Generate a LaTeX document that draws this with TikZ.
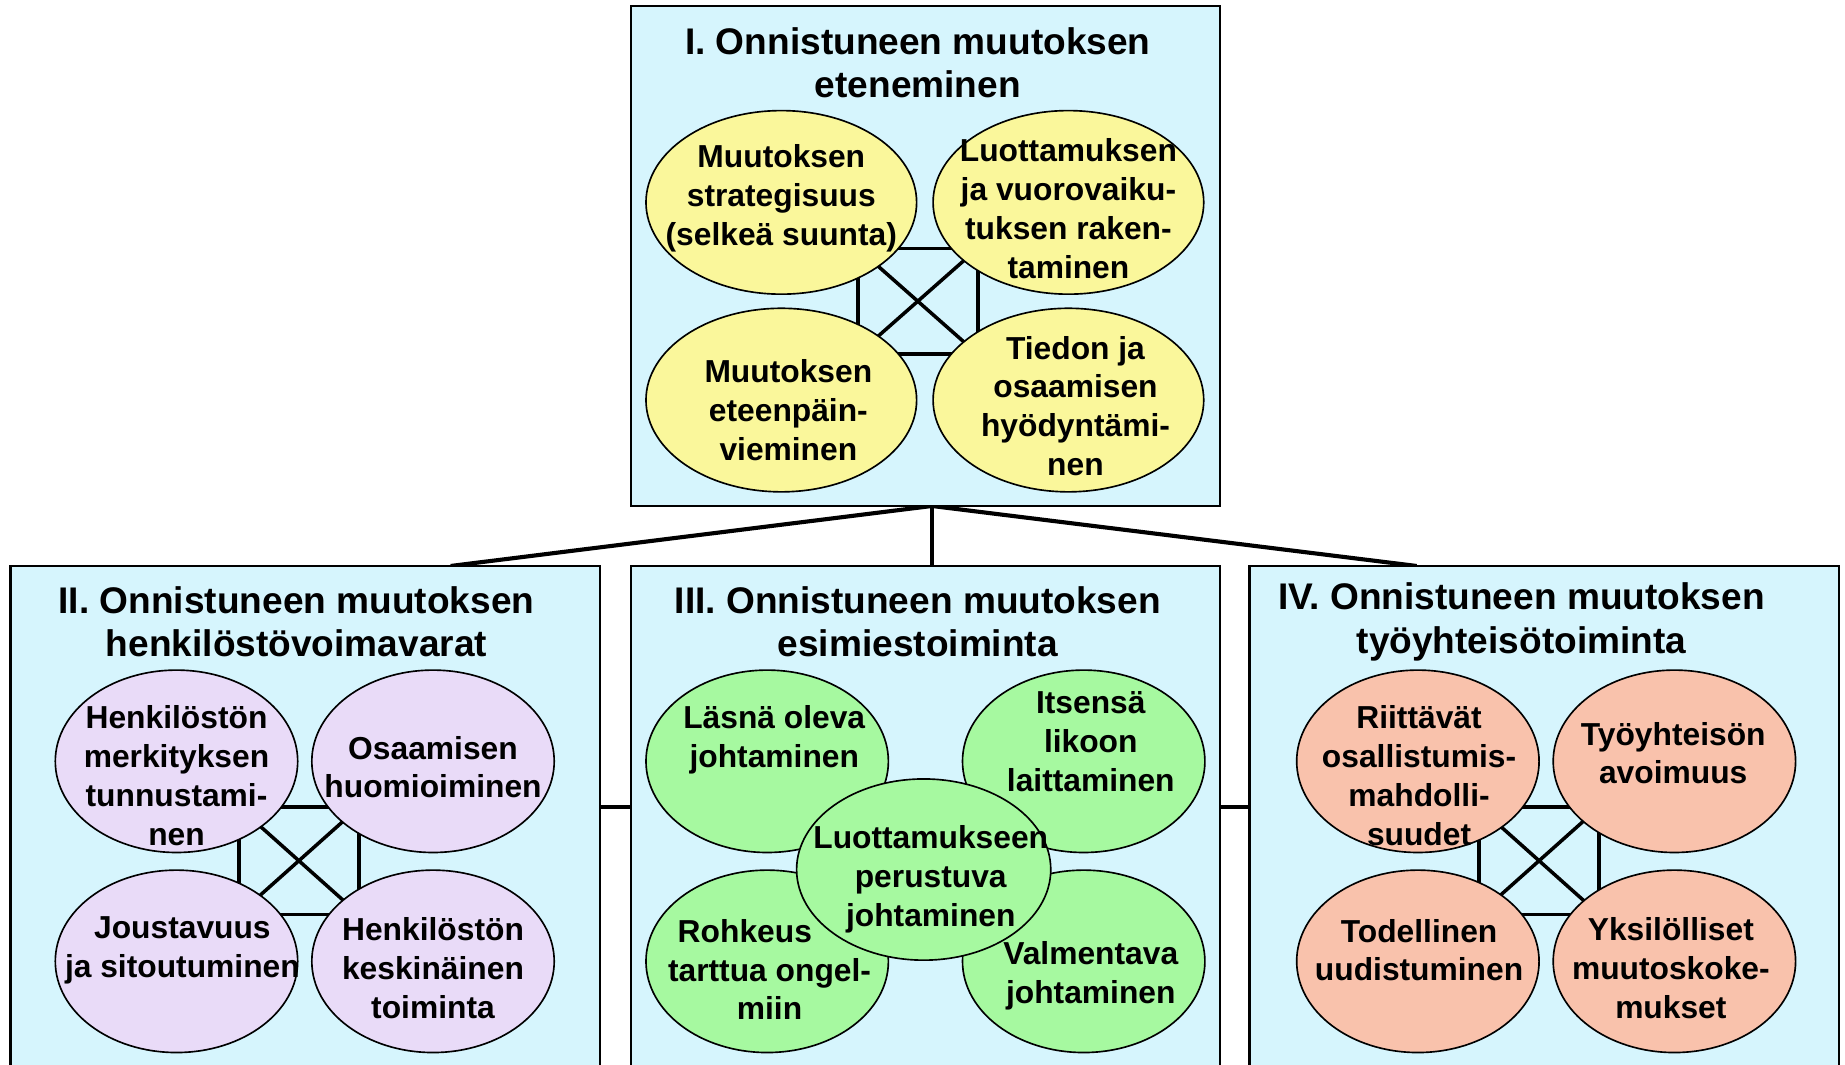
\documentclass[tikz,border=0pt]{standalone}
\usepackage{fontspec}
\setmainfont{Liberation Sans}
\usetikzlibrary{shapes.geometric}
\definecolor{boxbg}{RGB}{214,245,253}
\definecolor{yel}{RGB}{250,247,155}
\definecolor{lav}{RGB}{233,219,248}
\definecolor{grn}{RGB}{166,249,160}
\definecolor{sal}{RGB}{249,194,172}
\tikzset{
  panel/.style={fill=boxbg, draw=black, line width=2bp},
  bubble/.style={ellipse, draw=black, line width=1.4bp, inner sep=0pt},
  bigbub/.style={bubble, minimum width=230bp, minimum height=156bp, fill=yel},
  smallbub/.style={bubble, minimum width=206bp, minimum height=155bp},
  ttl/.style={align=center, inner sep=0pt, font=\fontsize{31.5bp}{37bp}\selectfont\bfseries},
  lbl/.style={align=center, inner sep=0pt, font=\fontsize{27bp}{33bp}\selectfont\bfseries},
  link/.style={draw=black, line width=3bp},
  tree/.style={draw=black, line width=3.5bp},
}
\begin{document}
\begin{tikzpicture}[x=1bp, y=-1bp]
\useasboundingbox (0,0) rectangle (1568,905);
\clip (0,0) rectangle (1568,905);
\fill[white] (0,0) rectangle (1568,905);

% ---------- tree connectors ----------
\coordinate (hub) at (792,430);
\coordinate (t2) at (383,481);
\coordinate (t3) at (792,481);
\coordinate (t4) at (1204,481);
\draw[tree] (hub) -- (t2);
\draw[tree] (hub) -- (t3);
\draw[tree] (hub) -- (t4);
\coordinate (h23a) at (510,686);
\coordinate (h23b) at (536,686);
\coordinate (h34a) at (1037,686);
\coordinate (h34b) at (1062,686);
\draw[tree] (h23a) -- (h23b);
\draw[tree] (h34a) -- (h34b);

% ---------- panels ----------
\draw[panel] (536,5) rectangle (1037,430);
\fill[boxbg] (9,481) rectangle (510,920);
\draw[line width=2bp] (9,920) -- (9,481) -- (510,481) -- (510,920);
\fill[boxbg] (536,481) rectangle (1037,920);
\draw[line width=2bp] (536,920) -- (536,481) -- (1037,481) -- (1037,920);
\fill[boxbg] (1062,481) rectangle (1563,920);
\draw[line width=2bp] (1062,920) -- (1062,481) -- (1563,481) -- (1563,920);

% ---------- titles ----------
\node[ttl] (title1) at (780,53.5) {I. Onnistuneen muutoksen\\eteneminen};
\node[ttl] (title2) at (252,528.5) {II. Onnistuneen muutoksen\\henkilöstövoimavarat};
\node[ttl] (title3) at (780,528.5) {III. Onnistuneen muutoksen\\esimiestoiminta};
\node[ttl] (title4) at (1293,528.5) {IV. Onnistuneen muutoksen\\työyhteisötoiminta};

% ---------- panel I ----------
\coordinate (a1) at (729,211); \coordinate (a2) at (831,211);
\coordinate (a3) at (729,301); \coordinate (a4) at (831,301);
\draw[link] (a1) -- (a2) -- (a4) -- (a3) -- cycle;
\draw[link] (a1) -- (a4);
\draw[link] (a2) -- (a3);
\node[bigbub] (e1) at (664,172) {};
\node[bigbub] (e2) at (908,172) {};
\node[bigbub] (e3) at (664,340) {};
\node[bigbub] (e4) at (908,340) {};
\node[lbl] (l1) at (664,168.5) {Muutoksen\\strategisuus\\(selkeä suunta)};
\node[lbl] (l2) at (908,177.5) {Luottamuksen\\ja vuorovaiku-\\tuksen raken-\\taminen};
\node[lbl] (l3) at (670,348.5) {Muutoksen\\eteenpäin-\\vieminen};
\node[lbl] (l4) at (914,345) {Tiedon ja\\osaamisen\\hyödyntämi-\\nen};

% ---------- panel II ----------
\coordinate (b1) at (203,686); \coordinate (b2) at (305,686);
\coordinate (b3) at (203,777); \coordinate (b4) at (305,777);
\draw[link] (b1) -- (b2) -- (b4) -- (b3) -- cycle;
\draw[link] (b1) -- (b4);
\draw[link] (b2) -- (b3);
\node[smallbub, fill=lav] (f1) at (150,647) {};
\node[smallbub, fill=lav] (f2) at (368,647) {};
\node[smallbub, fill=lav] (f3) at (150,817) {};
\node[smallbub, fill=lav] (f4) at (368,817) {};
\node[lbl] (m1) at (150,659) {Henkilöstön\\merkityksen\\tunnustami-\\nen};
\node[lbl] (m2) at (368,652) {Osaamisen\\huomioiminen};
\node[lbl] (m3) at (155,808) {Joustavuus\\ja sitoutuminen};
\node[lbl] (m4) at (368,822.5) {Henkilöstön\\keskinäinen\\toiminta};

% ---------- panel III ----------
\node[smallbub, fill=grn] (g1) at (652,647) {};
\node[smallbub, fill=grn] (g2) at (921,647) {};
\node[smallbub, fill=grn] (g3) at (652,817) {};
\node[smallbub, fill=grn] (g4) at (921,817) {};
\node[lbl] (n1) at (658,629) {Läsnä oleva\\johtaminen};
\node[lbl] (n2) at (927,630.5) {Itsensä\\likoon\\laittaminen};
\node[lbl] (n3) at (654,824) {Rohkeus\rule{42bp}{0pt}\\tarttua ongel-\\miin};
\node[lbl] (n4) at (927,829) {Valmentava\\johtaminen};
\node[bubble, minimum width=216bp, minimum height=154bp, fill=grn] (g5) at (785,739) {};
\node[lbl] (n5) at (791,747.5) {Luottamukseen\\perustuva\\johtaminen};

% ---------- panel IV ----------
\coordinate (c1) at (1257,686); \coordinate (c2) at (1359,686);
\coordinate (c3) at (1257,777); \coordinate (c4) at (1359,777);
\draw[link] (c1) -- (c2) -- (c4) -- (c3) -- cycle;
\draw[link] (c1) -- (c4);
\draw[link] (c2) -- (c3);
\node[smallbub, fill=sal] (h1) at (1205,647) {};
\node[smallbub, fill=sal] (h2) at (1423,647) {};
\node[smallbub, fill=sal] (h3) at (1205,817) {};
\node[smallbub, fill=sal] (h4) at (1423,817) {};
\node[lbl] (o1) at (1206,659) {Riittävät\\osallistumis-\\mahdolli-\\suudet};
\node[lbl] (o2) at (1422,640) {Työyhteisön\\avoimuus};
\node[lbl] (o3) at (1206,807.5) {Todellinen\\uudistuminen};
\node[lbl] (o4) at (1420,822.5) {Yksilölliset\\muutoskoke-\\mukset};
\end{tikzpicture}
\end{document}
